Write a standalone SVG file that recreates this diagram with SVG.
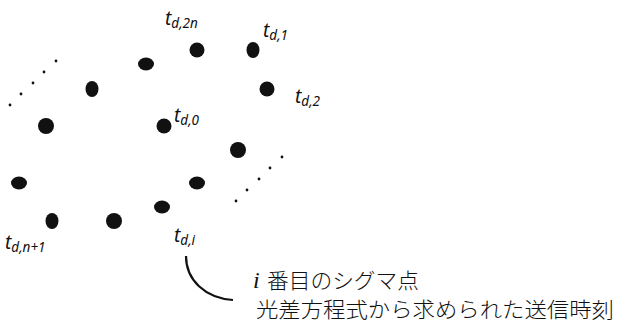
<svg xmlns="http://www.w3.org/2000/svg" width="618" height="329" viewBox="0 0 618 329">
<style>
.pt{fill:#111}
.sm{fill:#111}
.t{font-family:"Noto Sans","Open Sans",sans-serif;font-style:italic;font-size:19px;fill:#111}
.s{font-size:13.5px}
.jp{font-family:"Noto Sans CJK JP",sans-serif;font-size:21px;fill:#111;font-weight:300}
.i{font-family:"Liberation Serif",serif;font-style:italic;font-size:24px;fill:#111}
.con{fill:none;stroke:#111;stroke-width:2.2}
</style>
<g id="points">
<ellipse class="pt" cx="197" cy="50" rx="7.5" ry="7.5"/>
<ellipse class="pt" cx="253" cy="50" rx="6.5" ry="8"/>
<ellipse class="pt" cx="146" cy="64" rx="8" ry="6.5"/>
<ellipse class="pt" cx="92" cy="89" rx="6.5" ry="8"/>
<ellipse class="pt" cx="267" cy="89" rx="7.5" ry="7.5"/>
<ellipse class="pt" cx="46" cy="126" rx="8" ry="8"/>
<ellipse class="pt" cx="164" cy="126" rx="7.5" ry="7.5"/>
<ellipse class="pt" cx="238" cy="150" rx="8" ry="8"/>
<ellipse class="pt" cx="19" cy="183" rx="8" ry="6.5"/>
<ellipse class="pt" cx="52" cy="221" rx="6.5" ry="8"/>
<ellipse class="pt" cx="114" cy="221" rx="8" ry="8"/>
<ellipse class="pt" cx="162" cy="207" rx="8" ry="6.5"/>
<ellipse class="pt" cx="197" cy="183" rx="8" ry="6.5"/>
</g>
<g id="ellipsis-left">
<circle class="sm" cx="56" cy="61" r="1.4"/>
<circle class="sm" cx="44" cy="72" r="1.4"/>
<circle class="sm" cx="33" cy="83" r="1.4"/>
<circle class="sm" cx="21" cy="94" r="1.4"/>
<circle class="sm" cx="10" cy="105" r="1.4"/>
</g>
<g id="ellipsis-right">
<circle class="sm" cx="282" cy="157" r="1.4"/>
<circle class="sm" cx="270" cy="168" r="1.4"/>
<circle class="sm" cx="259" cy="179" r="1.4"/>
<circle class="sm" cx="247" cy="190" r="1.4"/>
<circle class="sm" cx="236" cy="201" r="1.4"/>
</g>
<g id="labels">
<text class="t" x="165" y="25">t<tspan class="s" dy="3">d,2n</tspan></text>
<text class="t" x="263" y="37">t<tspan class="s" dy="3">d,1</tspan></text>
<text class="t" x="174" y="122">t<tspan class="s" dy="3">d,0</tspan></text>
<text class="t" x="295" y="103">t<tspan class="s" dy="3">d,2</tspan></text>
<text class="t" x="5" y="249">t<tspan class="s" dy="3">d,n+1</tspan></text>
<text class="t" x="174" y="242">t<tspan class="s" dy="3">d,i</tspan></text>
</g>
<g id="connectors">
<path class="con" d="M186,256 C186,280 205,298 233,300"/>
</g>
<g id="annotation">
<text class="i" x="253" y="288">i</text>
<text class="jp" x="267" y="288" textLength="152" lengthAdjust="spacingAndGlyphs">番目のシグマ点</text>
<text class="jp" x="256" y="317" textLength="358" lengthAdjust="spacingAndGlyphs">光差方程式から求められた送信時刻</text>
</g>
</svg>
